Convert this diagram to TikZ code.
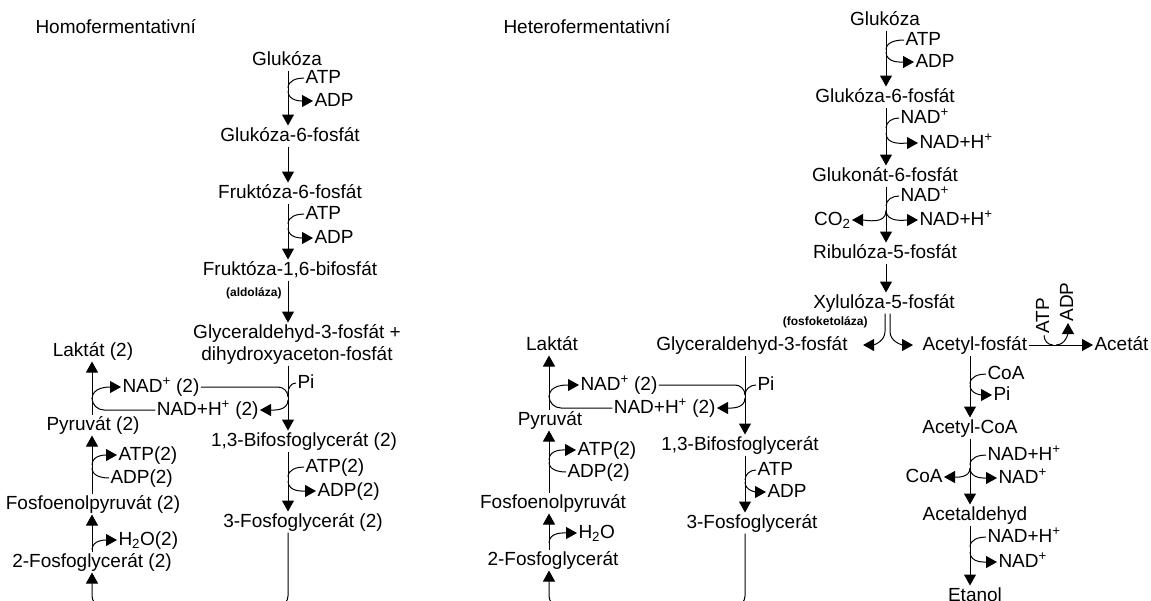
\documentclass[tikz,border=0pt]{standalone}
\usepackage{fontspec}
\setmainfont{Liberation Sans}
\usetikzlibrary{arrows.meta, calc, positioning}

\tikzset{
  lbl/.style={inner sep=1pt, text height=14pt, text depth=4pt},
  enz/.style={inner sep=1pt, font=\bfseries\fontsize{12}{14}\selectfont},
  rx/.style={-{Triangle[length=11pt,width=12pt]}},
}

\begin{document}
\begin{tikzpicture}[x=1pt, y=-1pt, line width=1pt, font=\fontsize{19}{22}\selectfont]
\useasboundingbox (0,0) rectangle (1151,600);
\coordinate (axL) at (288,0);
\coordinate (axLL) at (92,0);
\coordinate (axM) at (745,0);
\coordinate (axML) at (549,0);
\coordinate (axR) at (886,0);
\coordinate (axA) at (970,0);
\coordinate (botL) at (190,606);
\coordinate (botM) at (650,606);

\node[lbl, anchor=west] (homo) at (34,28) {Homofermentativní};
\node[lbl] (glcL) at (287,60) {Glukóza};
\node[lbl, anchor=west] (atpL1) at (304,78) {ATP};
\node[lbl, anchor=west] (adpL1) at (313,101) {ADP};
\node[lbl] (g6pL) at (290,136) {Glukóza-6-fosfát};
\node[lbl] (f6pL) at (290,193) {Fruktóza-6-fosfát};
\node[lbl, anchor=west] (atpL2) at (304,214) {ATP};
\node[lbl, anchor=west] (adpL2) at (313,238) {ADP};
\node[lbl] (fbpL) at (290,270) {Fruktóza-1,6-bifosfát};
\node[enz, anchor=east] (aldL) at (283,293) {(aldoláza)};
\node[lbl] (gapL1) at (297,333) {Glyceraldehyd-3-fosfát +};
\node[lbl] (gapL2) at (297,355) {dihydroxyaceton-fosfát};
\node[lbl, anchor=west] (piL) at (296,383) {Pi};
\node[lbl, anchor=west] (nadL) at (121,387) {NAD\textsuperscript{+} (2)};
\node[lbl, anchor=east] (nadhL) at (260,410) {NAD+H\textsuperscript{+} (2)};
\node[lbl] (bpgL) at (304,441) {1,3-Bifosfoglycerát (2)};
\node[lbl, anchor=west] (atpL3) at (304,467) {ATP(2)};
\node[lbl, anchor=west] (adpL3) at (316,491) {ADP(2)};
\node[lbl] (pgaL) at (303,522) {3-Fosfoglycerát (2)};
\node[lbl] (lakL) at (93,351) {Laktát (2)};
\node[lbl] (pyrL) at (93,425) {Pyruvát (2)};
\node[lbl, anchor=west] (atpL4) at (117,455) {ATP(2)};
\node[lbl, anchor=west] (adpL4) at (109,478) {ADP(2)};
\node[lbl] (pepL) at (93,504) {Fosfoenolpyruvát (2)};
\node[lbl, anchor=west] (h2oL) at (117,540) {H\textsubscript{2}O(2)};
\node[lbl] (pg2L) at (92,562) {2-Fosfoglycerát (2)};

\draw[rx] (glcL.south -| axL) -- (g6pL.north -| axL);
\draw (atpL1.west) to[out=180,in=90] ([yshift=-10pt]atpL1.west -| axL);
\draw[rx] ([yshift=10pt]adpL1.west -| axL) to[out=-90,in=180] (adpL1.west);
\draw[rx] (g6pL.south -| axL) -- (f6pL.north -| axL);
\draw[rx] (f6pL.south -| axL) -- (fbpL.north -| axL);
\draw (atpL2.west) to[out=180,in=90] ([yshift=-10pt]atpL2.west -| axL);
\draw[rx] ([yshift=10pt]adpL2.west -| axL) to[out=-90,in=180] (adpL2.west);
\draw[rx] (fbpL.south -| axL) -- (gapL1.north -| axL);
\draw[rx] (gapL2.south -| axL) -- (bpgL.north -| axL);
\draw (piL.west) to[out=180,in=90] ([yshift=-10pt]piL.west -| axL);
\draw (nadL.east) -- ([xshift=-10pt]nadL.east -| axL) to[out=0,in=90] ([yshift=-10pt]nadL.east -| axL);
\draw[rx] ([yshift=10pt]nadhL.east -| axL) to[out=-90,in=0] (nadhL.east);
\draw[rx] (bpgL.south -| axL) -- (pgaL.north -| axL);
\draw (atpL3.west) to[out=180,in=90] ([yshift=-10pt]atpL3.west -| axL);
\draw[rx] ([yshift=10pt]adpL3.west -| axL) to[out=-90,in=180] (adpL3.west);
\draw[rx, rounded corners=10pt] (pgaL.south -| axL) |- (botL) -| (pg2L.south -| axLL);
\draw[rx] (pg2L.north -| axLL) -- (pepL.south -| axLL);
\draw[rx] ([yshift=-10pt]h2oL.west -| axLL) to[out=90,in=180] (h2oL.west);
\draw[rx] (pepL.north -| axLL) -- (pyrL.south -| axLL);
\draw (adpL4.west) to[out=180,in=-90] ([yshift=10pt]adpL4.west -| axLL);
\draw[rx] ([yshift=-10pt]atpL4.west -| axLL) to[out=90,in=180] (atpL4.west);
\draw[rx] (pyrL.north -| axLL) -- (lakL.south -| axLL);
\draw (nadhL.west) -- ([xshift=12pt]nadhL.west -| axLL) to[out=180,in=-90] ([yshift=12pt]nadhL.west -| axLL);
\draw[rx] ([yshift=-12pt]nadL.west -| axLL) to[out=90,in=180] (nadL.west);

\node[lbl, anchor=west] (hetero) at (502,28) {Heterofermentativní};
\node[lbl] (glcR) at (885,20) {Glukóza};
\node[lbl, anchor=west] (atpR1) at (904,40) {ATP};
\node[lbl, anchor=west] (adpR1) at (914,62) {ADP};
\node[lbl] (g6pR) at (885,97) {Glukóza-6-fosfát};
\node[lbl, anchor=west] (nadR1) at (899,118) {NAD\textsuperscript{+}};
\node[lbl, anchor=west] (nadhR1) at (918,143) {NAD+H\textsuperscript{+}};
\node[lbl] (gnR) at (885,176) {Glukonát-6-fosfát};
\node[lbl, anchor=west] (nadR2) at (899,196) {NAD\textsuperscript{+}};
\node[lbl, anchor=west] (nadhR2) at (918,220) {NAD+H\textsuperscript{+}};
\node[lbl, anchor=east] (co2R) at (852,220) {CO\textsubscript{2}};
\node[lbl] (ruR) at (885,253) {Ribulóza-5-fosfát};
\node[lbl] (xuR) at (884,303) {Xylulóza-5-fosfát};
\node[enz, anchor=east] (fkR) at (869,322) {(fosfoketoláza)};
\node[lbl, anchor=west] (acpR) at (921,345) {Acetyl-fosfát};
\node[lbl, anchor=west] (actR) at (1093,345) {Acetát};
\node[lbl, rotate=90] (atpR5) at (1044,316) {ATP};
\node[lbl, rotate=90] (adpR5) at (1068,302) {ADP};
\node[lbl, anchor=west] (coaR1) at (986,374) {CoA};
\node[lbl, anchor=west] (piR) at (992,395) {Pi};
\node[lbl] (accR) at (970,428) {Acetyl-CoA};
\node[lbl, anchor=west] (nadhR3) at (986,455) {NAD+H\textsuperscript{+}};
\node[lbl, anchor=west] (nadR3) at (997,478) {NAD\textsuperscript{+}};
\node[lbl, anchor=east] (coaR2) at (944,477) {CoA};
\node[lbl] (aldR) at (975,515) {Acetaldehyd};
\node[lbl, anchor=west] (nadhR4) at (986,537) {NAD+H\textsuperscript{+}};
\node[lbl, anchor=west] (nadR4) at (997,562) {NAD\textsuperscript{+}};
\node[lbl] (etR) at (975,596) {Etanol};

\node[lbl] (gapM) at (752,345) {Glyceraldehyd-3-fosfát};
\node[lbl, anchor=west] (piM) at (756,385) {Pi};
\node[lbl, anchor=west] (nadM) at (579,385) {NAD\textsuperscript{+} (2)};
\node[lbl, anchor=east] (nadhM) at (717,408) {NAD+H\textsuperscript{+} (2)};
\node[lbl] (bpgM) at (740,445) {1,3-Bifosfoglycerát};
\node[lbl, anchor=west] (atpM3) at (756,470) {ATP};
\node[lbl, anchor=west] (adpM3) at (766,492) {ADP};
\node[lbl] (pgaM) at (752,523) {3-Fosfoglycerát};
\node[lbl] (lakM) at (552,345) {Laktát};
\node[lbl] (pyrM) at (550,420) {Pyruvát};
\node[lbl, anchor=west] (atpM4) at (576,450) {ATP(2)};
\node[lbl, anchor=west] (adpM4) at (566,472) {ADP(2)};
\node[lbl] (pepM) at (553,503) {Fosfoenolpyruvát};
\node[lbl, anchor=west] (h2oM) at (577,533) {H\textsubscript{2}O};
\node[lbl] (pg2M) at (553,560) {2-Fosfoglycerát};

\draw[rx] (glcR.south -| axR) -- (g6pR.north -| axR);
\draw (atpR1.west) to[out=180,in=90] ([yshift=-10pt]atpR1.west -| axR);
\draw[rx] ([yshift=10pt]adpR1.west -| axR) to[out=-90,in=180] (adpR1.west);
\draw[rx] (g6pR.south -| axR) -- (gnR.north -| axR);
\draw (nadR1.west) to[out=180,in=90] ([yshift=-10pt]nadR1.west -| axR);
\draw[rx] ([yshift=10pt]nadhR1.west -| axR) to[out=-90,in=180] (nadhR1.west);
\draw[rx] (gnR.south -| axR) -- (ruR.north -| axR);
\draw (nadR2.west) to[out=180,in=90] ([yshift=-10pt]nadR2.west -| axR);
\draw[rx] ([yshift=10pt]nadhR2.west -| axR) to[out=-90,in=180] (nadhR2.west);
\draw[rx] ([yshift=9pt]co2R.east -| axR) to[out=-90,in=0] (co2R.east);
\draw[rx] (ruR.south -| axR) -- (xuR.north -| axR);
\draw[rx] ([xshift=-1pt]xuR.south -| axR) -- ++(0,18) to[out=-90,in=0] ([xshift=14pt]gapM.east);
\draw[rx] ([xshift=4pt]xuR.south -| axR) -- ++(0,18) to[out=-90,in=180] ([xshift=-8pt]acpR.west);
\draw[rx] (acpR.east) -- (actR.west);
\draw (atpR5.west) to[out=-90,in=180] ([xshift=9pt]atpR5.west |- acpR.east);
\draw[rx] ([xshift=-12pt]adpR5.west |- acpR.east) to[out=0,in=-90] (adpR5.west);
\draw[rx] (acpR.south -| axA) -- (accR.north -| axA);
\draw (coaR1.west) to[out=180,in=90] ([yshift=-10pt]coaR1.west -| axA);
\draw[rx] ([yshift=10pt]piR.west -| axA) to[out=-90,in=180] (piR.west);
\draw[rx] (accR.south -| axA) -- (aldR.north -| axA);
\draw (nadhR3.west) to[out=180,in=90] ([yshift=-10pt]nadhR3.west -| axA);
\draw[rx] ([yshift=10pt]nadR3.west -| axA) to[out=-90,in=180] (nadR3.west);
\draw[rx] ([yshift=9pt]coaR2.east -| axA) to[out=-90,in=0] (coaR2.east);
\draw[rx] (aldR.south -| axA) -- (etR.north -| axA);
\draw (nadhR4.west) to[out=180,in=90] ([yshift=-10pt]nadhR4.west -| axA);
\draw[rx] ([yshift=10pt]nadR4.west -| axA) to[out=-90,in=180] (nadR4.west);

\draw[rx] (gapM.south -| axM) -- (bpgM.north -| axM);
\draw (piM.west) to[out=180,in=90] ([yshift=-10pt]piM.west -| axM);
\draw (nadM.east) -- ([xshift=-10pt]nadM.east -| axM) to[out=0,in=90] ([yshift=-10pt]nadM.east -| axM);
\draw[rx] ([yshift=10pt]nadhM.east -| axM) to[out=-90,in=0] (nadhM.east);
\draw[rx] (bpgM.south -| axM) -- (pgaM.north -| axM);
\draw (atpM3.west) to[out=180,in=90] ([yshift=-10pt]atpM3.west -| axM);
\draw[rx] ([yshift=10pt]adpM3.west -| axM) to[out=-90,in=180] (adpM3.west);
\draw[rx, rounded corners=10pt] (pgaM.south -| axM) |- (botM) -| (pg2M.south -| axML);
\draw[rx] (pg2M.north -| axML) -- (pepM.south -| axML);
\draw[rx] ([yshift=-10pt]h2oM.west -| axML) to[out=90,in=180] (h2oM.west);
\draw[rx] (pepM.north -| axML) -- (pyrM.south -| axML);
\draw (adpM4.west) to[out=180,in=-90] ([yshift=10pt]adpM4.west -| axML);
\draw[rx] ([yshift=-10pt]atpM4.west -| axML) to[out=90,in=180] (atpM4.west);
\draw[rx] (pyrM.north -| axML) -- (lakM.south -| axML);
\draw (nadhM.west) -- ([xshift=12pt]nadhM.west -| axML) to[out=180,in=-90] ([yshift=12pt]nadhM.west -| axML);
\draw[rx] ([yshift=-12pt]nadM.west -| axML) to[out=90,in=180] (nadM.west);
\end{tikzpicture}
\end{document}
